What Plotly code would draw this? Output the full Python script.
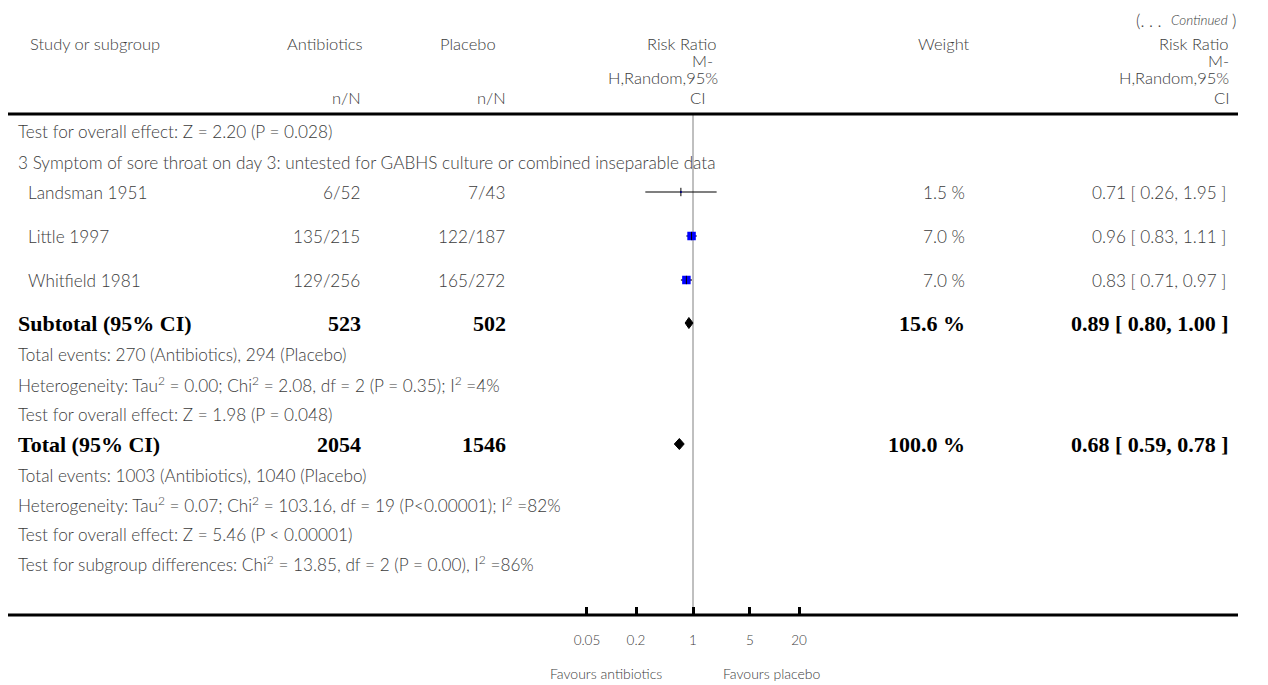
import plotly.graph_objects as go

# ---------------- data ----------------
studies = ["Landsman 1951", "Little 1997", "Whitfield 1981"]
abx_nN = ["6/52", "135/215", "129/256"]
plc_nN = ["7/43", "122/187", "165/272"]
rr = [0.71, 0.96, 0.83]
rr_lo = [0.26, 0.83, 0.71]
rr_hi = [1.95, 1.11, 0.97]
weights = [1.5, 7.0, 7.0]

sub_label = "Subtotal (95% CI)"
sub_abx_N = 523
sub_plc_N = 502
sub_weight = 15.6
sub_rr, sub_lo, sub_hi = 0.89, 0.80, 1.00

tot_label = "Total (95% CI)"
tot_abx_N = 2054
tot_plc_N = 1546
tot_weight = 100.0
tot_rr, tot_lo, tot_hi = 0.68, 0.59, 0.78

prev_test_text = "Test for overall effect: Z = 2.20 (P = 0.028)"
group_title = "3 Symptom of sore throat on day 3: untested for GABHS culture or combined inseparable data"
sub_notes = [
    "Total events: 270 (Antibiotics), 294 (Placebo)",
    "Heterogeneity: Tau<sup>2</sup> = 0.00; Chi<sup>2</sup> = 2.08, df = 2 (P = 0.35); I<sup>2</sup> =4%",
    "Test for overall effect: Z = 1.98 (P = 0.048)",
]
tot_notes = [
    "Total events: 1003 (Antibiotics), 1040 (Placebo)",
    "Heterogeneity: Tau<sup>2</sup> = 0.07; Chi<sup>2</sup> = 103.16, df = 19 (P<0.00001); I<sup>2</sup> =82%",
    "Test for overall effect: Z = 5.46 (P < 0.00001)",
    "Test for subgroup differences: Chi<sup>2</sup> = 13.85, df = 2 (P = 0.00), I<sup>2</sup> =86%",
]
rr_header = ["Risk Ratio", "M-", "H,Random,95%", "CI"]
tick_vals = [0.05, 0.2, 1, 5, 20]
tick_text = ["0.05", "0.2", "1", "5", "20"]
favours_left = "Favours antibiotics"
favours_right = "Favours placebo"

# ---------------- layout geometry (reference pixels) ----------------
W, H = 1268, 685
OFF = 8                      # browser body margin
FW, FH = W - OFF, H - OFF    # figure size
AXIS_Y = 615
LINE_L, LINE_R = 6, 1238
X_ONE = 693                  # pixel of RR = 1
PX_PER_DECADE = 81.5

def px(x):
    return max(0.0, (x - OFF) / FW)

dom_l, dom_r = px(LINE_L), px(LINE_R)
pix_l = OFF + dom_l * FW
pix_r = OFF + dom_r * FW
x_lo_log = (pix_l - X_ONE) / PX_PER_DECADE
x_hi_log = (pix_r - X_ONE) / PX_PER_DECADE

SANS = "Lato"
SERIF = "Liberation Serif"
FS = 17.2
HFS = 16.5
GREY = "#3c3c3c"

annotations = []

def txt(x, y, s, anchor="left", size=FS, family=SANS, color=GREY, bold=False,
        weight=300, box_h=None):
    if bold:
        s = "<b>" + s + "</b>"
        weight = "bold"
    a = dict(x=px(x), y=y, xref="paper", yref="y", text=s,
             xanchor=anchor, yanchor="middle", showarrow=False, borderpad=0,
             font=dict(family=family, size=size, color=color, weight=weight))
    if box_h is not None:
        a["height"] = box_h
        a["valign"] = "middle"
    annotations.append(a)

# header
txt(1237, 20, ")", anchor="right", size=17)
txt(1229, 20, "<i>Continued</i>", anchor="right", size=13.5)
txt(1163, 20, "(. . .", anchor="right", size=17)
HY = [44, 61, 78, 98]
txt(95, HY[0], "Study or subgroup", anchor="center", size=HFS)
txt(325, HY[0], "Antibiotics", anchor="center", size=HFS)
txt(468, HY[0], "Placebo", anchor="center", size=HFS)
txt(362, HY[3], "n/N", anchor="right", size=HFS)
txt(507, HY[3], "n/N", anchor="right", size=HFS)
mid_right = [718, 714, 719, 706]
for i, s in enumerate(rr_header):
    txt(mid_right[i], HY[i], s, anchor="right", size=HFS, box_h=16.5)
txt(944, HY[0], "Weight", anchor="center", size=HFS)
for i, s in enumerate(rr_header):
    txt(1230, HY[i], s, anchor="right", size=HFS, box_h=16.5)

# body rows
txt(17, 131, prev_test_text)
txt(17, 162, group_title)
ROW_Y = [192, 236, 280]
for i, name in enumerate(studies):
    y = ROW_Y[i]
    txt(27, y, name)
    txt(361, y, abx_nN[i], anchor="right")
    txt(506, y, plc_nN[i], anchor="right")
    txt(966, y, f"{weights[i]:.1f} %", anchor="right")
    txt(1227, y, f"{rr[i]:.2f} [ {rr_lo[i]:.2f}, {rr_hi[i]:.2f} ]", anchor="right")

BFS = 22
SUB_Y = 323
def bold_row(y, label, n1, n2, w, est, lo, hi):
    txt(17, y, label, family=SERIF, size=BFS, color="black", bold=True)
    txt(362, y, str(n1), anchor="right", family=SERIF, size=BFS, color="black", bold=True)
    txt(507, y, str(n2), anchor="right", family=SERIF, size=BFS, color="black", bold=True)
    txt(966, y, f"{w:.1f} %", anchor="right", family=SERIF, size=BFS, color="black", bold=True)
    txt(1230, y, f"{est:.2f} [ {lo:.2f}, {hi:.2f} ]", anchor="right",
        family=SERIF, size=BFS, color="black", bold=True)

bold_row(SUB_Y, sub_label, sub_abx_N, sub_plc_N, sub_weight, sub_rr, sub_lo, sub_hi)
for i, s in enumerate(sub_notes):
    txt(17, 354 + 30 * i, s)

TOT_Y = 444
bold_row(TOT_Y, tot_label, tot_abx_N, tot_plc_N, tot_weight, tot_rr, tot_lo, tot_hi)
for i, s in enumerate(tot_notes):
    txt(17, 475 + 29.5 * i, s)

# favours labels
txt(606, 673, favours_left, anchor="center", size=14)
txt(772, 673, favours_right, anchor="center", size=14)

# ---------------- traces ----------------
fig = go.Figure()
for i in range(len(studies)):
    y = ROW_Y[i]
    fig.add_trace(go.Scatter(x=[rr_lo[i], rr_hi[i]], y=[y, y], mode="lines",
                             line=dict(color="black", width=1.2), hoverinfo="skip"))
    sz = 8.5 * weights[i] / 7.0
    fig.add_trace(go.Scatter(x=[rr[i]], y=[y], mode="markers",
                             marker=dict(symbol="square", size=sz, color="#0000ff",
                                         line=dict(width=0)), hoverinfo="skip"))
    fig.add_trace(go.Scatter(x=[rr[i]], y=[y], mode="markers",
                             marker=dict(symbol="line-ns", size=6,
                                         line=dict(color="black", width=1)), hoverinfo="skip"))

def diamond(est, lo, hi, y, h=5.5):
    fig.add_trace(go.Scatter(x=[lo, est, hi, est, lo], y=[y, y - h, y, y + h, y],
                             mode="lines", fill="toself", fillcolor="black",
                             line=dict(color="black", width=1), hoverinfo="skip"))

diamond(sub_rr, sub_lo, sub_hi, SUB_Y)
diamond(tot_rr, tot_lo, tot_hi, TOT_Y)

shapes = [
    dict(type="line", xref="paper", yref="y", x0=dom_l, x1=dom_r, y0=114, y1=114,
         line=dict(color="black", width=3)),
    dict(type="line", xref="paper", yref="y", x0=dom_l, x1=dom_r, y0=AXIS_Y, y1=AXIS_Y,
         line=dict(color="black", width=3)),
    dict(type="line", xref="x", yref="y", x0=1, x1=1, y0=114, y1=AXIS_Y,
         line=dict(color="#808080", width=1), layer="below"),
]

fig.update_layout(
    width=FW, height=FH, autosize=False,
    margin=dict(l=0, r=0, t=0, b=0),
    paper_bgcolor="white", plot_bgcolor="white",
    showlegend=False,
    xaxis=dict(type="log", range=[x_lo_log, x_hi_log], domain=[dom_l, dom_r],
               anchor="free", position=(H - AXIS_Y) / FH,
               showgrid=False, zeroline=False, showline=False,
               tickmode="array", tickvals=tick_vals, ticktext=tick_text,
               ticks="inside", ticklen=8, tickwidth=2.5, tickcolor="black",
               ticklabelstandoff=15,
               tickfont=dict(family=SANS, size=13.5, color=GREY, weight=300)),
    yaxis=dict(range=[H, OFF], domain=[0, 1], visible=False, showgrid=False, zeroline=False),
    annotations=annotations,
    shapes=shapes,
)

fig.write_html("out.html")
